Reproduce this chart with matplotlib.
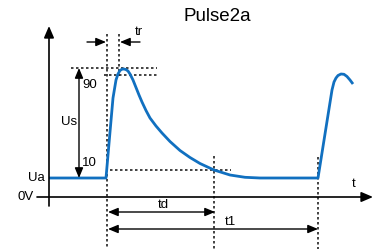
import matplotlib
matplotlib.use("Agg")
import matplotlib.pyplot as plt

plt.rcParams['font.family'] = ['Liberation Sans', 'DejaVu Sans']

# Pulse waveform (pixel-like diagram units: x to the right, y downward)
curve_x = [49, 106, 110, 113, 116, 118, 120, 122, 124, 126, 128, 130, 133, 136, 139,
           142, 146, 150, 156, 162, 170, 180, 190, 200, 214, 230, 245, 260,
           318, 325, 332, 334, 336, 338, 341, 344, 347, 350, 353]
curve_y = [178, 178, 132, 98, 80, 74, 70.5, 69.2, 69, 69.6, 71, 74, 80, 87.5, 95,
           102, 110.5, 118, 126, 133, 141.5, 150.5, 157.5, 163.5, 170, 175, 177.3, 178,
           178, 134, 90, 82, 78, 75.5, 74, 74.3, 76.5, 80, 84]

# Reference levels / times
level_0v = 197
level_ua = 178
level_10 = 170
level_90 = 75
level_peak = 68
t_start = 107
t_90 = 119
t_d = 214
t_1 = 318

labels = {"title": "Pulse2a", "ua": "Ua", "zero": "0V", "us": "Us", "p90": "90",
          "p10": "10", "tr": "tr", "td": "td", "t1": "t1", "t": "t"}

fig = plt.figure(figsize=(3.76, 2.49), dpi=100)
ax = fig.add_axes([0, 0, 1, 1])
ax.set_xlim(0, 376)
ax.set_ylim(249, 0)
ax.axis('off')

k = 'black'
dot = dict(color='#222222', lw=1.2, ls=(0, (1.5, 1.5)))

# axes with arrows
ax.annotate('', xy=(49, 26), xytext=(49, 206),
            arrowprops=dict(arrowstyle='-|>,head_length=0.7,head_width=0.3', color=k, lw=1.2, shrinkA=0, shrinkB=0))
ax.annotate('', xy=(373, level_0v), xytext=(37, level_0v),
            arrowprops=dict(arrowstyle='-|>,head_length=0.7,head_width=0.3', color=k, lw=1.2, shrinkA=0, shrinkB=0))

# dotted guides
ax.plot([t_start, t_start], [34, 249], **dot)
ax.plot([t_90, t_90], [34, 76], **dot)
ax.plot([71, 157], [level_peak, level_peak], **dot)
ax.plot([104, 157], [level_90, level_90], **dot)
ax.plot([110, 231], [level_10, level_10], **dot)
ax.plot([t_d, t_d], [156, 249], **dot)
ax.plot([t_1, t_1], [157, 249], **dot)

# waveform
ax.plot(curve_x, curve_y, color='#1170c0', lw=2.0, solid_capstyle='butt', solid_joinstyle='round')

arr = dict(arrowstyle='-|>,head_length=0.6,head_width=0.25', color=k, lw=1.0, shrinkA=0, shrinkB=0)
darr = dict(arrowstyle='<|-|>,head_length=0.6,head_width=0.25', color=k, lw=1.0, shrinkA=0, shrinkB=0)

# tr arrows
ax.annotate('', xy=(t_start - 1, 42), xytext=(87, 42), arrowprops=arr)
ax.annotate('', xy=(t_90 + 1, 42), xytext=(140, 42), arrowprops=arr)

# Us arrow
ax.annotate('', xy=(79, level_peak), xytext=(79, level_ua), arrowprops=darr)

# td / t1 arrows
ax.annotate('', xy=(t_start + 1, 212), xytext=(t_d + 1, 212), arrowprops=darr)
ax.annotate('', xy=(t_start + 1, 229), xytext=(t_1, 229), arrowprops=darr)

fs = 9.5
ax.text(217, 16, labels["title"], fontsize=13.5, ha='center', va='center')
ax.text(45, level_ua, labels["ua"], fontsize=fs, ha='right', va='center')
ax.text(34, level_0v, labels["zero"], fontsize=fs, ha='right', va='center')
ax.text(77, 122, labels["us"], fontsize=fs, ha='right', va='center')
ax.text(82, 85, labels["p90"], fontsize=fs, ha='left', va='center')
ax.text(82, 163, labels["p10"], fontsize=fs, ha='left', va='center')
ax.text(135, 32, labels["tr"], fontsize=fs, ha='left', va='center')
ax.text(163, 205, labels["td"], fontsize=fs, ha='center', va='center')
ax.text(230, 222, labels["t1"], fontsize=fs, ha='center', va='center')
ax.text(354, 184, labels["t"], fontsize=fs, ha='center', va='center')

fig.savefig('out.png', dpi=100)
